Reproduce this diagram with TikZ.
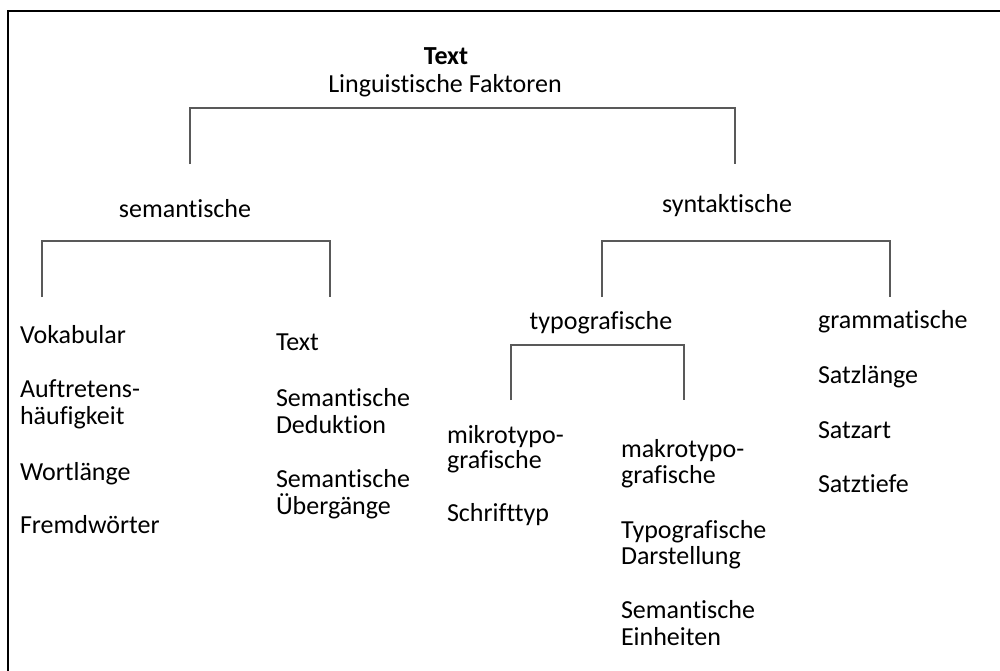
\documentclass[tikz,border=0pt]{standalone}
\usepackage{fontspec}
\setmainfont[Ligatures=NoCommon]{Carlito}
\begin{document}
\begin{tikzpicture}[x=1pt,y=-1pt,
  lbl/.style={inner sep=0pt,outer sep=0pt,anchor=base west,font=\fontsize{26}{27}\selectfont},
  clbl/.style={lbl,anchor=base},
  brk/.style={draw=black!65,line width=1.4pt},
  frame/.style={draw=black,line width=2.6pt}]
\useasboundingbox (0,0) rectangle (1000,670);
\coordinate (fb) at (8,672);
\coordinate (fc) at (8,11);
\coordinate (fe) at (1002,11);
\draw[frame] (fb) -- (fc) -- (fe);
% top
\node[clbl,font=\bfseries\fontsize{26}{27}\selectfont] (title) at (446,64) {Text};
\node[clbl] (sub) at (445,92) {Linguistische Faktoren};
\coordinate (t1) at (190,164);
\coordinate (t2) at (190,108);
\coordinate (t3) at (735,108);
\coordinate (t4) at (735,164);
\draw[brk] (t1) -- (t2) -- (t3) -- (t4);
% semantische
\node[clbl] (sem) at (185,217) {semantische};
\coordinate (s1) at (42,297);
\coordinate (s2) at (42,241);
\coordinate (s3) at (330,241);
\coordinate (s4) at (330,297);
\draw[brk] (s1) -- (s2) -- (s3) -- (s4);
\node[lbl] (vok) at (20,343) {Vokabular};
\node[lbl] (auf1) at (20,397) {Auftretens-};
\node[lbl] (auf2) at (20,424) {häufigkeit};
\node[lbl] (wort) at (20,480) {Wortlänge};
\node[lbl] (fremd) at (20,533) {Fremdwörter};
\node[lbl] (txt) at (276,350) {Text};
\node[lbl] (ded1) at (276,406) {Semantische};
\node[lbl] (ded2) at (276,433) {Deduktion};
\node[lbl] (ueb1) at (276,487) {Semantische};
\node[lbl] (ueb2) at (276,514) {Übergänge};
% syntaktische
\node[clbl] (syn) at (727,212) {syntaktische};
\coordinate (y1) at (602,297);
\coordinate (y2) at (602,241);
\coordinate (y3) at (890,241);
\coordinate (y4) at (890,297);
\draw[brk] (y1) -- (y2) -- (y3) -- (y4);
\node[clbl] (typo) at (601,329) {typografische};
\coordinate (p1) at (511,400);
\coordinate (p2) at (511,345);
\coordinate (p3) at (684,345);
\coordinate (p4) at (684,400);
\draw[brk] (p1) -- (p2) -- (p3) -- (p4);
\node[lbl] (mikro1) at (447,443) {mikrotypo-};
\node[lbl] (mikro2) at (447,468) {grafische};
\node[lbl] (schrift) at (447,521) {Schrifttyp};
\node[lbl] (makro1) at (621,457) {makrotypo-};
\node[lbl] (makro2) at (621,483) {grafische};
\node[lbl] (darst1) at (621,538) {Typografische};
\node[lbl] (darst2) at (621,564) {Darstellung};
\node[lbl] (einh1) at (621,618) {Semantische};
\node[lbl] (einh2) at (621,645) {Einheiten};
\node[lbl] (gram) at (818,328) {grammatische};
\node[lbl] (slaen) at (818,383) {Satzlänge};
\node[lbl] (sart) at (818,438) {Satzart};
\node[lbl] (stief) at (818,492) {Satztiefe};
\end{tikzpicture}
\end{document}
